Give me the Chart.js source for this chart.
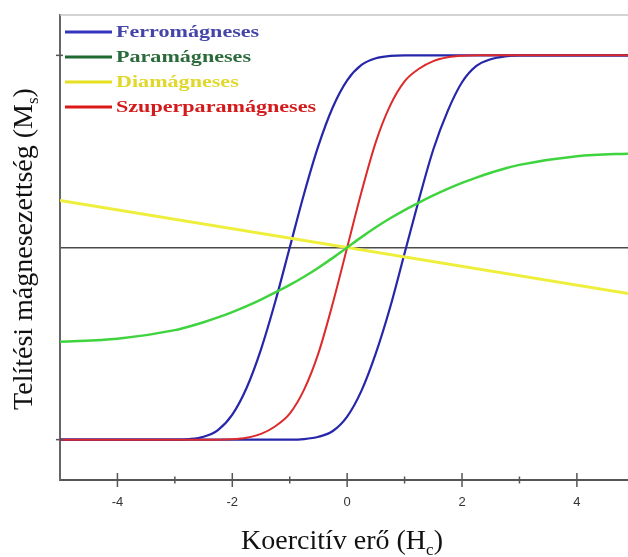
<!DOCTYPE html>
<html>
<head>
<meta charset="utf-8">
<script src="https://cdn.jsdelivr.net/npm/chart.js@4.4.0/dist/chart.umd.min.js"></script>
<style>
  html, body { margin: 0; padding: 0; background: #fff; }
</style>
</head>
<body>
<canvas id="hyst" width="628" height="557"></canvas>
<script>
// field strength values shared by the curved series
const fieldH = [-5, -4, -3, -2.75, -2.5, -2.25, -2, -1.75, -1.5, -1.25, -1, -0.75, -0.5, -0.25, 0,
  0.25, 0.5, 0.75, 1, 1.25, 1.5, 1.75, 2, 2.25, 2.5, 2.75, 3, 4, 5];

// ferromagnetic loop - rising branch (zero at H = -1) and falling branch (zero at H = +1)
const ferroUp = [-1, -1, -1, -0.997, -0.985, -0.95, -0.87, -0.73, -0.53, -0.28, 0,
  0.28, 0.53, 0.73, 0.87, 0.95, 0.985, 0.997, 1, 1, 1, 1, 1, 1, 1, 1, 1, 1, 1];
const ferroDown = [-1, -1, -1, -1, -1, -1, -1, -1, -1, -1, -1,
  -0.997, -0.985, -0.955, -0.88, -0.745, -0.55, -0.31, -0.03, 0.25, 0.51, 0.71, 0.86, 0.945, 0.98, 0.995, 1, 1, 1];
// superparamagnetic
const superPara = [-1, -1, -1, -1, -1, -1, -0.998, -0.99, -0.97, -0.93, -0.865, -0.74, -0.55, -0.29, 0,
  0.29, 0.55, 0.74, 0.865, 0.93, 0.97, 0.99, 0.998, 1, 1, 1, 1, 1, 1];
// paramagnetic
const para = [-0.49, -0.475, -0.43, -0.411, -0.389, -0.364, -0.336, -0.305, -0.271, -0.234, -0.195, -0.152, -0.105, -0.054, 0,
  0.054, 0.105, 0.152, 0.195, 0.234, 0.271, 0.305, 0.336, 0.364, 0.389, 0.411, 0.43, 0.475, 0.49];
// diamagnetic (straight line)
const diaH = [-5, 5];
const dia = [0.245, -0.245];

const legendNames = ["Ferromágneses", "Paramágneses", "Diamágneses", "Szuperparamágneses"];
const xTicks = [-4, -3, -2, -1, 0, 1, 2, 3, 4];
const yTicks = [-1, 0, 1];

const legendLine = ["#3535c0", "#1d6b30", "#e6e020", "#dd1818"];
const legendText = ["#4545a8", "#2b6a3a", "#e0d82a", "#d41a1a"];

const pts = (xs, ys) => xs.map((x, i) => ({ x: x, y: ys[i] }));

const line = (data, color, width) => ({
  data: data,
  borderColor: color,
  borderWidth: width,
  pointRadius: 0,
  fill: false,
  cubicInterpolationMode: "monotone",
});

const SERIF = "'Liberation Serif', 'Times New Roman', serif";

// draws "main" + subscript + "tail", centred on x
function subText(ctx, main, sub, tail, x, y, size) {
  ctx.font = size + "px " + SERIF;
  const w1 = ctx.measureText(main).width;
  const w3 = ctx.measureText(tail).width;
  ctx.font = Math.round(size * 0.62) + "px " + SERIF;
  const w2 = ctx.measureText(sub).width;
  let cx = x - (w1 + w2 + w3) / 2;
  ctx.textAlign = "left";
  ctx.textBaseline = "alphabetic";
  ctx.font = size + "px " + SERIF;
  ctx.fillText(main, cx, y);
  cx += w1;
  ctx.font = Math.round(size * 0.62) + "px " + SERIF;
  ctx.fillText(sub, cx, y + size * 0.2);
  cx += w2;
  ctx.font = size + "px " + SERIF;
  ctx.fillText(tail, cx, y);
}

const decor = {
  id: "decor",
  afterDraw(chart) {
    const ctx = chart.ctx;
    const area = chart.chartArea;
    const xs = chart.scales.x;
    const ys = chart.scales.y;
    ctx.save();

    // top frame line
    ctx.strokeStyle = "#c4c4c4";
    ctx.lineWidth = 1.5;
    ctx.beginPath();
    ctx.moveTo(area.left, area.top);
    ctx.lineTo(area.right, area.top);
    ctx.stroke();

    // tick marks crossing the axes
    ctx.strokeStyle = "#555";
    ctx.lineWidth = 1.5;
    xTicks.forEach((v) => {
      const px = xs.getPixelForValue(v);
      const h = v % 2 === 0 ? 7 : 3.5;
      ctx.beginPath();
      ctx.moveTo(px, area.bottom - h);
      ctx.lineTo(px, area.bottom + h);
      ctx.stroke();
    });
    [-1, 1].forEach((v) => {
      const py = ys.getPixelForValue(v);
      ctx.beginPath();
      ctx.moveTo(area.left - 4, py);
      ctx.lineTo(area.left + 3, py);
      ctx.stroke();
    });

    // legend
    const rowY = [32, 57, 82, 107];
    legendNames.forEach((name, i) => {
      ctx.strokeStyle = legendLine[i];
      ctx.lineWidth = 3;
      ctx.beginPath();
      ctx.moveTo(65, rowY[i]);
      ctx.lineTo(112, rowY[i]);
      ctx.stroke();
      ctx.save();
      ctx.translate(116, rowY[i]);
      ctx.scale(1.3, 1);
      ctx.fillStyle = legendText[i];
      ctx.font = "bold 17px " + SERIF;
      ctx.textAlign = "left";
      ctx.textBaseline = "middle";
      ctx.fillText(name, 0, 1);
      ctx.restore();
    });

    // axis titles
    ctx.fillStyle = "#111";
    subText(ctx, "Koercitív erő (H", "c", ")", 342, 549, 28);
    ctx.save();
    ctx.translate(32, 249);
    ctx.rotate(-Math.PI / 2);
    subText(ctx, "Telítési mágnesezettség (M", "s", ")", 0, 0, 28);
    ctx.restore();

    ctx.restore();
  },
};

new Chart(document.getElementById("hyst"), {
  type: "line",
  data: {
    datasets: [
      line(pts(fieldH, para), "#3fd43f", 2.5),
      line(pts(diaH, dia), "#eeee3c", 3),
      line(pts(fieldH, superPara), "#dd2a2a", 2),
      line(pts(fieldH, ferroUp), "#2626aa", 2.2),
      line(pts(fieldH, ferroDown), "#2626aa", 2.2),
    ],
  },
  options: {
    responsive: false,
    animation: false,
    layout: { padding: { top: 15, right: 0, left: 0, bottom: 0 } },
    plugins: { legend: { display: false }, tooltip: { enabled: false } },
    scales: {
      x: {
        type: "linear",
        min: -5,
        max: 4.89,
        afterBuildTicks: (s) => { s.ticks = xTicks.map((v) => ({ value: v })); },
        afterFit: (s) => { s.height = 77; },
        grid: { display: false, drawTicks: false },
        border: { display: true, color: "#555", width: 2 },
        ticks: {
          autoSkip: false,
          maxRotation: 0,
          padding: 15,
          color: "#333",
          font: { family: "'Liberation Sans', Arial, sans-serif", size: 13 },
          callback: (v) => (v % 2 === 0 ? String(v) : ""),
        },
      },
      y: {
        type: "linear",
        min: -1.21,
        max: 1.21,
        afterBuildTicks: (s) => { s.ticks = yTicks.map((v) => ({ value: v })); },
        afterFit: (s) => { s.width = 60; },
        grid: {
          drawTicks: false,
          color: (c) => (c.tick && c.tick.value === 0 ? "#4a4a4a" : "rgba(0,0,0,0)"),
          lineWidth: 1.5,
        },
        border: { display: true, color: "#666", width: 2 },
        ticks: { display: false },
      },
    },
  },
  plugins: [decor],
});
</script>
</body>
</html>
